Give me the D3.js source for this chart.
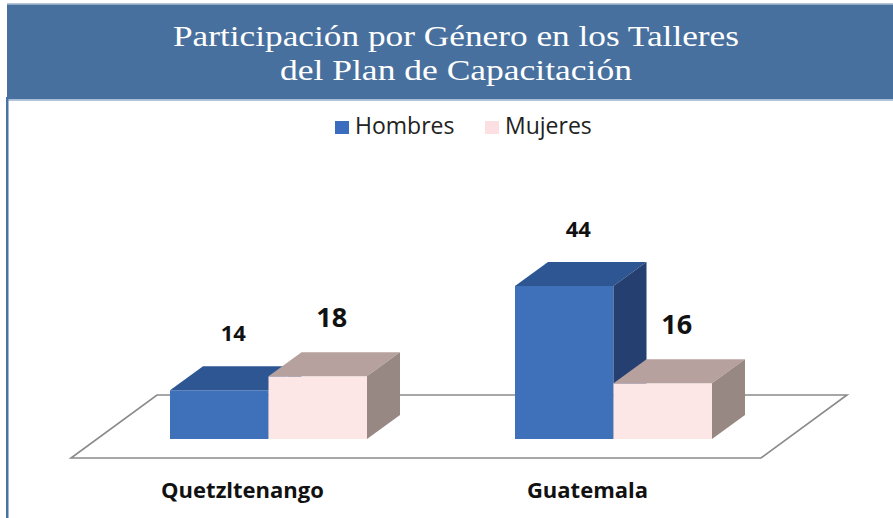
<!DOCTYPE html>
<html>
<head>
<meta charset="utf-8">
<script src="https://cdn.jsdelivr.net/npm/d3@7"></script>
<style>
  html, body { margin: 0; padding: 0; background: #fff; }
  svg { display: block; }
</style>
</head>
<body>
<svg id="chart" width="893" height="518"></svg>
<script>
const titleLines = ["Participación por Género en los Talleres", "del Plan de Capacitación"];
const categories = ["Quetzltenango", "Guatemala"];
const seriesNames = ["Hombres", "Mujeres"];
const hombres = [14, 44];
const mujeres = [18, 16];

const seriesValues = [hombres, mujeres];
const colors = {
  Hombres: { front: "#3f71ba", top: "#2e5693", side: "#243f70", legend: "#3a6dbd" },
  Mujeres: { front: "#fde7e6", top: "#b7a19e", side: "#978884", legend: "#fbdfe2" }
};
const labelSize = { Hombres: 22, Mujeres: 27 };

const svg = d3.select("#chart");
const W = 893, H = 518;

// frame / header
svg.append("rect").attr("x", 0).attr("y", 0).attr("width", W).attr("height", H).attr("fill", "#fff");
svg.append("rect").attr("x", 7).attr("y", 3).attr("width", W - 7).attr("height", 1.5).attr("fill", "#b3c5da");
svg.append("rect").attr("x", 7).attr("y", 4.5).attr("width", W - 7).attr("height", 95).attr("fill", "#48709e");
svg.append("rect").attr("x", 7).attr("y", 99.5).attr("width", W - 7).attr("height", 1.5).attr("fill", "#b3c5da");
svg.append("rect").attr("x", 6).attr("y", 97).attr("width", 2.5).attr("height", H - 97).attr("fill", "#4a72a4");

// title (one text element, two lines)
const titleLens = [566, 352];
const title = svg.append("text")
  .attr("text-anchor", "middle")
  .attr("font-family", "'Liberation Serif', 'Times New Roman', serif")
  .attr("font-size", 30)
  .attr("fill", "#ffffff");
titleLines.forEach((t, i) => {
  title.append("tspan")
    .attr("x", 456).attr("y", 46 + i * 34)
    .attr("textLength", titleLens[i])
    .attr("lengthAdjust", "spacingAndGlyphs")
    .text(t);
});

// legend
const legendX = [335, 485];
seriesNames.forEach((s, i) => {
  svg.append("rect").attr("x", legendX[i]).attr("y", 121).attr("width", 14).attr("height", 13)
    .attr("fill", colors[s].legend);
  svg.append("text").attr("x", legendX[i] + 20).attr("y", 134)
    .attr("font-family", "'Open Sans', sans-serif").attr("font-size", 23)
    .attr("fill", "#222").text(s);
});

// scales
const base = 439;
const x0 = d3.scaleBand().domain(categories).range([96, 786]).paddingInner(0.429).paddingOuter(0.2145);
const x1 = d3.scaleBand().domain(seriesNames).range([0, x0.bandwidth()]);
const y = d3.scaleLinear().domain([0, 50]).range([base, base - 174]);
const dx = 33, dy = -24;

// floor
const fL = x0.range()[0] - 25, fR = x0.range()[1] - 25, fY = base + 19;
const fdx = 86, fdy = -63;
svg.append("polygon")
  .attr("points", [[fL, fY], [fR, fY], [fR + fdx, fY + fdy], [fL + fdx, fY + fdy]].map(p => p.join(",")).join(" "))
  .attr("fill", "#fff").attr("stroke", "#8a8a8a").attr("stroke-width", 1.6);

// bars
const barsG = svg.append("g");
categories.forEach((c, ci) => {
  seriesNames.forEach((s, si) => {
    const v = seriesValues[si][ci];
    const bx = x0(c) + x1(s);
    const w = x1.bandwidth();
    const yt = y(v), yb = y(0);
    const g = barsG.append("g");
    g.append("rect").attr("x", bx).attr("y", yt).attr("width", w).attr("height", yb - yt)
      .attr("fill", colors[s].front);
    g.append("polygon")
      .attr("points", [[bx, yt], [bx + w, yt], [bx + w + dx, yt + dy], [bx + dx, yt + dy]].map(p => p.join(",")).join(" "))
      .attr("fill", colors[s].top);
    g.append("polygon")
      .attr("points", [[bx + w, yt], [bx + w + dx, yt + dy], [bx + w + dx, yb + dy], [bx + w, yb]].map(p => p.join(",")).join(" "))
      .attr("fill", colors[s].side);
  });
});

// value labels
categories.forEach((c, ci) => {
  seriesNames.forEach((s, si) => {
    const v = seriesValues[si][ci];
    const bx = x0(c) + x1(s);
    svg.append("text")
      .attr("x", bx + x1.bandwidth() / 2 + 14)
      .attr("y", y(v) + dy - 25)
      .attr("text-anchor", "middle")
      .attr("font-family", "'Open Sans', sans-serif")
      .attr("font-weight", "bold")
      .attr("font-size", labelSize[s])
      .attr("fill", "#111")
      .text(v);
  });
});

// category labels
categories.forEach(c => {
  svg.append("text")
    .attr("x", x0(c) + x0.bandwidth() / 2 - 26)
    .attr("y", 498)
    .attr("text-anchor", "middle")
    .attr("font-family", "'Open Sans', sans-serif")
    .attr("font-weight", "bold")
    .attr("font-size", 22)
    .attr("fill", "#111")
    .text(c);
});
</script>
</body>
</html>
